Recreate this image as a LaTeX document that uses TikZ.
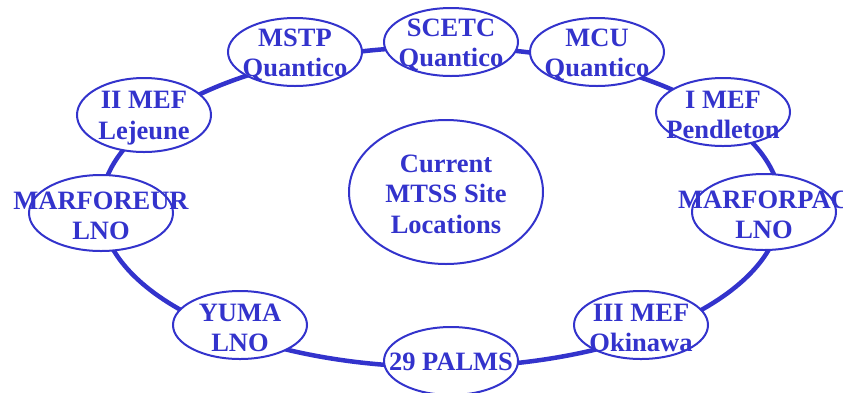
\documentclass[tikz,border=0pt]{standalone}
\usepackage{fontspec}
\setmainfont{Liberation Serif}
\usetikzlibrary{shapes.geometric}
\definecolor{ringblue}{RGB}{51,51,204}
\tikzset{
  site/.style={ellipse, draw=ringblue, line width=2pt, fill=white, inner sep=0pt,
    minimum width=134pt, minimum height=68pt},
  wide/.style={minimum width=144pt, minimum height=76pt},
  sitetext/.style={inner sep=0pt, align=center, text=ringblue, yshift=-3pt,
    font=\fontsize{26.5}{30.5}\selectfont\bfseries},
  ringline/.style={ellipse, draw=ringblue, line width=4.5pt, inner sep=0pt}
}
\begin{document}
\begin{tikzpicture}[x=1pt,y=-1pt]
\useasboundingbox (0,0) rectangle (843,392);
\clip (0,0) rectangle (843,392);
\node[ringline, minimum width=680pt, minimum height=320pt] (ring) at (441,207) {};
\node[site] (mstp) at (295,52) {};
\node[site] (scetc) at (451,42) {};
\node[site] (mcu) at (597,52) {};
\node[site] (imef) at (723,112) {};
\node[site, wide] (marforpac) at (764,212) {};
\node[site] (iiimef) at (641,325) {};
\node[site] (palms) at (451,361) {};
\node[site] (yuma) at (240,325) {};
\node[site, wide] (marforeur) at (101,213) {};
\node[site, minimum height=74pt] (iimef) at (144,115) {};
\node[site, minimum width=194pt, minimum height=144pt] (center) at (446,192) {};
\node[sitetext] (tmstp) at (mstp) {MSTP\\Quantico};
\node[sitetext] (tscetc) at (scetc) {SCETC\\Quantico};
\node[sitetext] (tmcu) at (mcu) {MCU\\Quantico};
\node[sitetext] (timef) at (imef) {I MEF\\Pendleton};
\node[sitetext] (tmarforpac) at (marforpac) {MARFORPAC\\LNO};
\node[sitetext] (tiiimef) at (iiimef) {III MEF\\Okinawa};
\node[sitetext, yshift=2pt] (tpalms) at (palms) {29 PALMS};
\node[sitetext] (tyuma) at (yuma) {YUMA\\LNO};
\node[sitetext] (tmarforeur) at (marforeur) {MARFOREUR\\LNO};
\node[sitetext] (tiimef) at (iimef) {II MEF\\Lejeune};
\node[sitetext, yshift=1pt] (tcenter) at (center) {Current\\MTSS Site\\Locations};
\end{tikzpicture}
\end{document}
